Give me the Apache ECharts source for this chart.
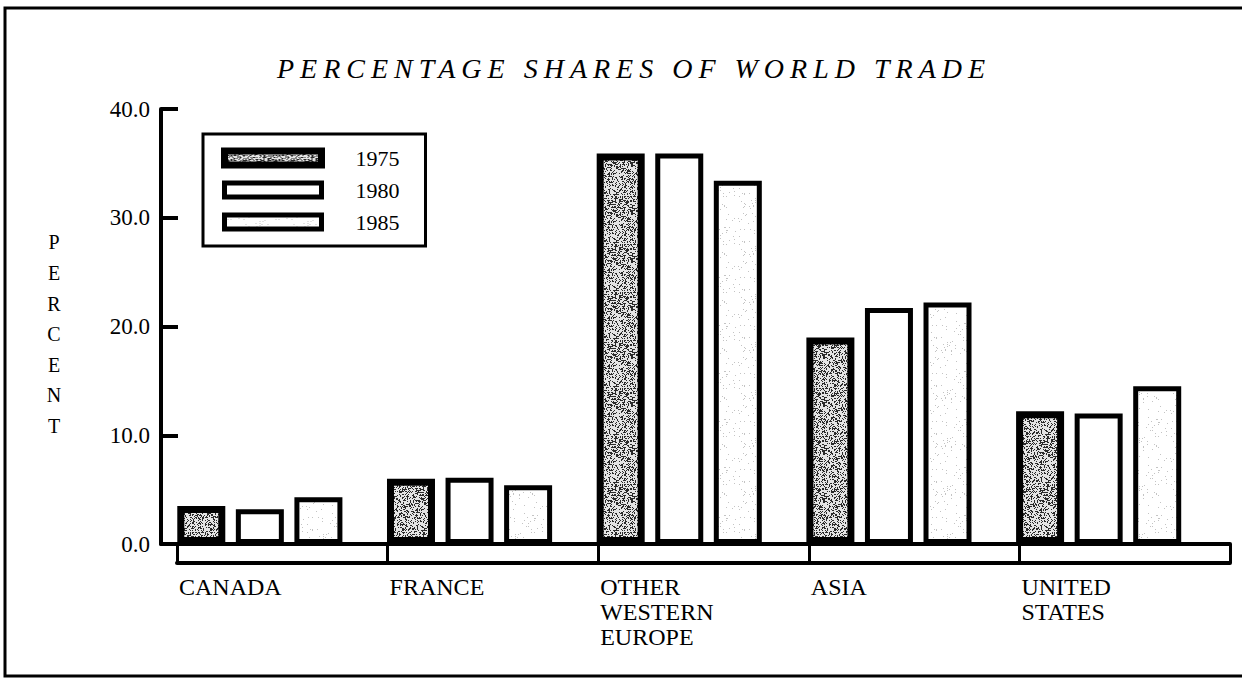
<!DOCTYPE html>
<html>
<head>
<meta charset="utf-8">
<script src="https://cdn.jsdelivr.net/npm/echarts@6/dist/echarts.min.js"></script>
<style>
html,body{margin:0;padding:0;background:#fff;}
#c{width:1242px;height:678px;}
#c svg text[style*="italic"]{letter-spacing:6px;}
</style>
</head>
<body>
<div id="c"></div>
<script>
// ---- data ----
const categories = ['CANADA', 'FRANCE', 'OTHER\nWESTERN\nEUROPE', 'ASIA', 'UNITED\nSTATES'];
const years = ['1975', '1980', '1985'];
const share1975 = [3.5, 6.0, 35.9, 19.0, 12.2];
const share1980 = [3.2, 6.1, 35.9, 21.7, 12.0];
const share1985 = [4.3, 5.4, 33.4, 22.2, 14.5];
const yTickLabels = ['0.0', '10.0', '20.0', '30.0', '40.0'];
const titleText = 'PERCENTAGE SHARES OF WORLD TRADE';
const yAxisTitle = 'PERCENT';

// ---- stipple textures (styling only) ----
function stipple(bg, dot, density, size) {
  const c = document.createElement('canvas');
  c.width = c.height = size;
  const g = c.getContext('2d');
  g.fillStyle = bg; g.fillRect(0, 0, size, size);
  g.fillStyle = dot;
  for (let y = 0; y < size; y++) {
    for (let x = 0; x < size; x++) {
      let h = Math.imul(x + 1, 374761393) ^ Math.imul(y + 7, 668265263);
      h = Math.imul(h ^ (h >>> 13), 1274126177);
      h = (h ^ (h >>> 16)) >>> 0;
      if ((h % 1000) / 1000 < density) g.fillRect(x, y, 1, 1);
    }
  }
  return c;
}
const fill1975 = { image: stipple('#e4e4e4', '#2a2a2a', 0.36, 48), repeat: 'repeat' };
const fill1980 = '#ffffff';
const fill1985 = { image: stipple('#ffffff', '#c4c4c4', 0.03, 48), repeat: 'repeat' };

const serif = '"Liberation Serif", "DejaVu Serif", serif';
const chart = echarts.init(document.getElementById('c'), null, { renderer: 'svg', width: 1242, height: 678 });

function barSeries(name, data, fill, bw) {
  return {
    name: name, type: 'bar', xAxisIndex: 1, yAxisIndex: 1, data: data,
    barWidth: 48, barGap: '22%',
    itemStyle: { color: fill, borderColor: '#000', borderWidth: bw },
    emphasis: { disabled: true }
  };
}
const fills = [fill1975, fill1980, fill1985];
const borders = [7, 5, 5];

const option = {
  animation: false,
  backgroundColor: '#fff',
  title: [
    { text: titleText, left: 272, top: 48,
      textStyle: { fontFamily: serif, fontStyle: 'italic', fontWeight: 'normal', fontSize: 28, lineHeight: 30, color: '#000' } },
    { text: yAxisTitle.split('').join('\n'), left: 49, top: 222, textAlign: 'center',
      textStyle: { fontFamily: serif, fontWeight: 'normal', fontSize: 20, lineHeight: 30.6, color: '#000' } }
  ],
  legend: {
    orient: 'vertical', left: 203, top: 134, padding: [9, 26, 9, 18],
    itemGap: 2, itemWidth: 97, itemHeight: 14,
    backgroundColor: '#fff', borderColor: '#000', borderWidth: 3, borderRadius: 0,
    selectedMode: false,
    textStyle: { fontFamily: serif, fontSize: 22, lineHeight: 14, color: '#000', padding: [16, 0, 0, 29] },
    data: years.map((y, i) => ({ name: y, icon: 'rect',
      itemStyle: { color: fills[i], borderColor: '#000', borderWidth: borders[i] } }))
  },
  grid: [
    { left: 161, top: 109, width: 1069, height: 435 },
    { left: 155, top: 109, width: 1048.5, height: 435 },
    { left: 177, top: 109, width: 1053, height: 435 }
  ],
  xAxis: [
    { gridIndex: 0, type: 'value', min: 0, max: 1, position: 'bottom',
      axisLine: { show: true, onZero: false, lineStyle: { color: '#000', width: 4 } },
      axisTick: { show: false }, axisLabel: { show: false }, splitLine: { show: false } },
    { gridIndex: 1, type: 'category', data: categories, show: false },
    { gridIndex: 2, type: 'category', data: categories.concat(['']), boundaryGap: false, position: 'bottom',
      axisLine: { show: false, onZero: false },
      axisTick: { show: true, interval: 0, length: 19, lineStyle: { color: '#000', width: 3 } },
      axisLabel: { interval: 0, align: 'left', margin: 30, fontFamily: serif, fontSize: 24, lineHeight: 25, color: '#000', padding: [0, 0, 0, 2] },
      splitLine: { show: false } },
    { gridIndex: 2, type: 'category', data: categories, position: 'bottom', offset: 19,
      axisLine: { show: true, onZero: false, lineStyle: { color: '#000', width: 4 } },
      axisTick: { show: false }, axisLabel: { show: false }, splitLine: { show: false } }
  ],
  yAxis: [
    { gridIndex: 0, type: 'value', min: 0, max: 40, interval: 10,
      axisLine: { show: true, onZero: false, lineStyle: { color: '#000', width: 4 } },
      axisTick: { show: true, inside: true, length: 17, lineStyle: { color: '#000', width: 4 } },
      axisLabel: { margin: 11, fontFamily: serif, fontSize: 23, color: '#000', padding: [4, 0, 0, 0],
        formatter: v => yTickLabels[Math.round(v / 10)] },
      splitLine: { show: false } },
    { gridIndex: 1, type: 'value', min: 0, max: 40, interval: 10, show: false },
    { gridIndex: 2, type: 'value', min: 0, max: 40, interval: 10, show: false }
  ],
  graphic: [
    { type: 'rect', silent: true, z: -10,
      shape: { x: 5, y: 8, width: 1300, height: 668 },
      style: { fill: 'none', stroke: '#000', lineWidth: 3 } }
  ],
  series: [
    barSeries(years[0], share1975, fill1975, 7),
    barSeries(years[1], share1980, fill1980, 5),
    barSeries(years[2], share1985, fill1985, 5)
  ]
};
chart.setOption(option);
</script>
</body>
</html>
